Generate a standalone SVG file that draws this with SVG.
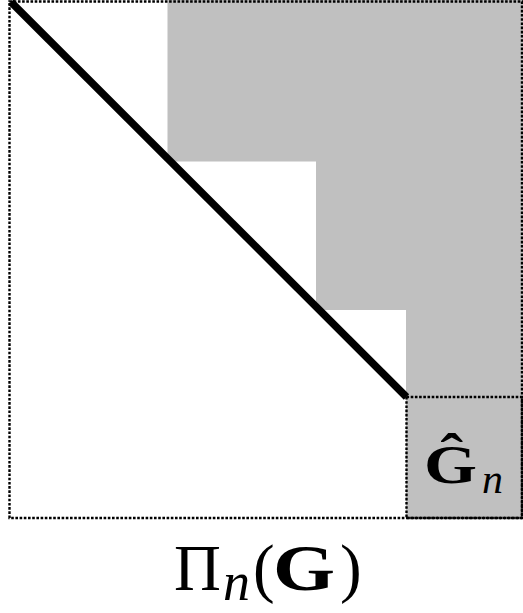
<svg xmlns="http://www.w3.org/2000/svg" width="523" height="613" viewBox="0 0 523 613">
<style>
.gray{fill:#c0c0c0;stroke:none}
.dot{fill:none;stroke:#000;stroke-width:2.4;stroke-dasharray:2.6 1.6}
.lbl{font-family:"Liberation Serif","DejaVu Serif",serif;fill:#000}
</style>
<rect width="523" height="613" fill="#fff"/>
<g id="staircase">
<rect class="gray" x="167.5" y="0" width="355.5" height="161.5"/>
<rect class="gray" x="316" y="161" width="207" height="149"/>
<rect class="gray" x="406" y="309.5" width="117" height="209"/>
</g>
<g id="frame">
<rect class="dot" x="9.5" y="1.5" width="512.5" height="516.5"/>
<rect class="dot" x="406.5" y="397" width="115.5" height="121"/>
</g>
<g id="diagonal">
<line x1="11" y1="2" x2="406.5" y2="397" stroke="#000" stroke-width="7.5"/>
</g>
<g id="ghat">
<text class="lbl" x="424" y="483" font-size="54" font-weight="bold" textLength="53" lengthAdjust="spacingAndGlyphs">Ĝ</text>
<text class="lbl" x="482" y="493" font-size="42" font-style="italic">n</text>
</g>
<g id="pi">
<text class="lbl" x="174" y="590" font-size="65">Π</text>
<text class="lbl" x="223" y="600" font-size="54" font-style="italic">n</text>
<text class="lbl" x="253" y="590" font-size="65">(</text>
<text class="lbl" x="273" y="590" font-size="65" font-weight="bold" textLength="62" lengthAdjust="spacingAndGlyphs">G</text>
<text class="lbl" x="340" y="590" font-size="65">)</text>
</g>
</svg>
